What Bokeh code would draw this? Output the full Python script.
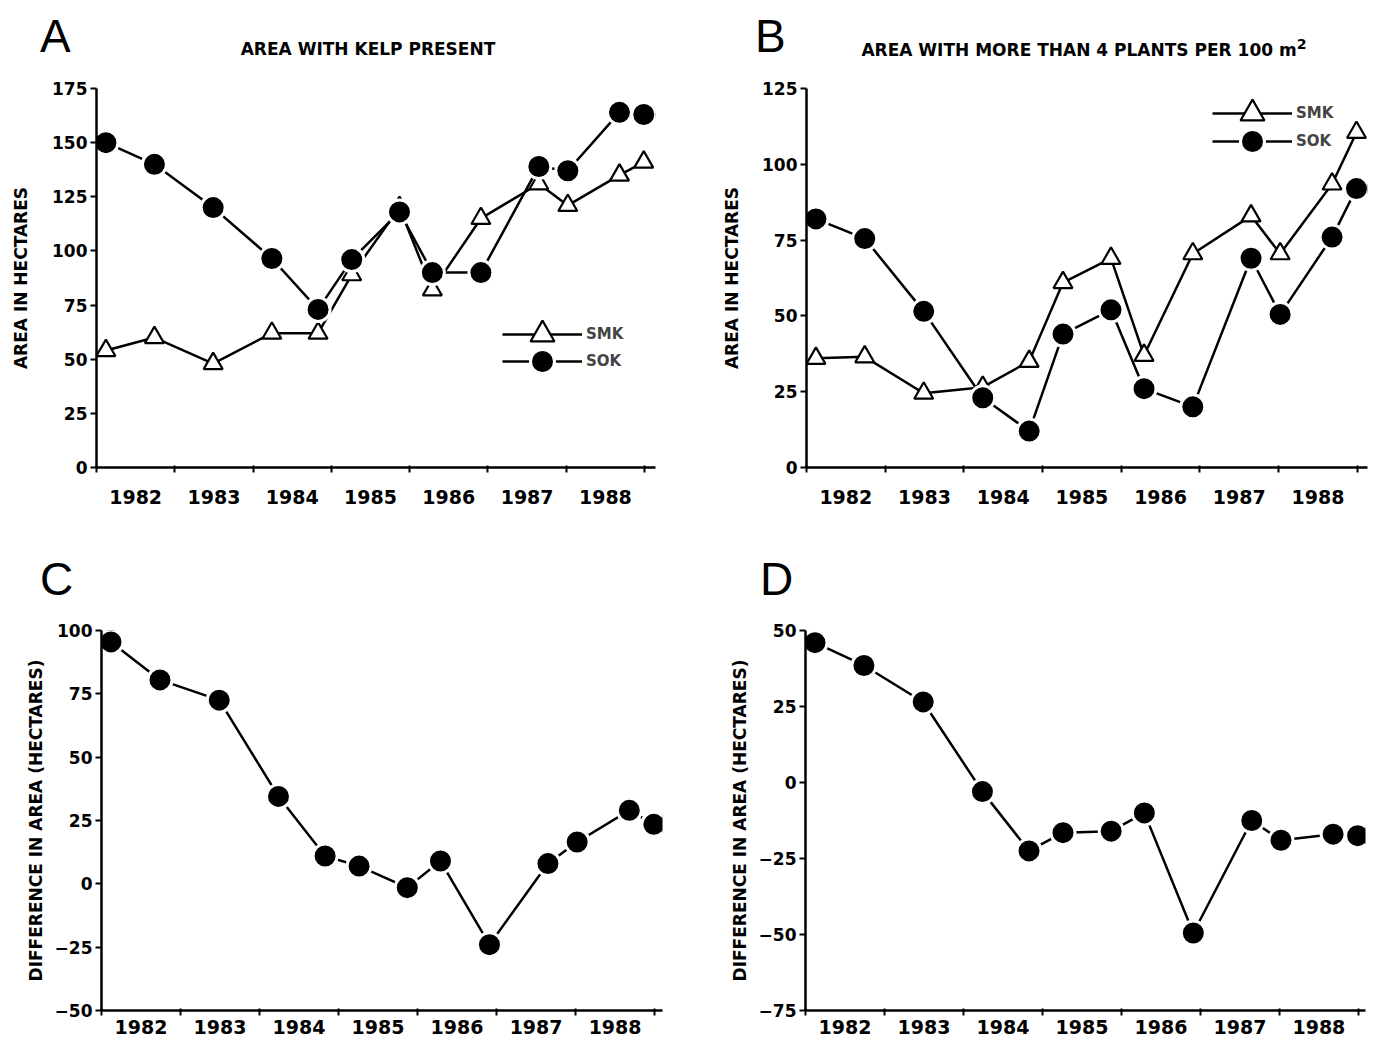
from bokeh.plotting import figure
from bokeh.models import Range1d, FixedTicker, Legend, LegendItem, Div
from bokeh.layouts import column, row
from bokeh.embed import file_html
from bokeh.resources import INLINE

# ---------------- data ----------------
year_labels = ["1982", "1983", "1984", "1985", "1986", "1987", "1988"]
year_bounds = [1982, 1983, 1984, 1985, 1986, 1987, 1988, 1989]
survey_dates = [1982.12, 1982.74, 1983.49, 1984.24, 1984.83, 1985.26, 1985.87,
                1986.29, 1986.91, 1987.65, 1988.02, 1988.68, 1988.99]

kelp_smk = [54, 60, 48, 62, 62, 89, 120, 82, 115, 131, 121, 135, 141]
kelp_sok = [150, 140, 120, 96.5, 73, 96, 118, 90, 90, 139, 137, 164, 163]

dense_smk = [36, 36.5, 24.5, 26.5, 35, 61, 69, 37, 70.5, 83, 70.5, 93.5, 110.5]
dense_sok = [82, 75.5, 51.5, 23, 12, 44, 52, 26, 20, 69, 50.5, 76, 92]

diff_kelp = [95.5, 80.5, 72.5, 34.5, 11, 7, -1.5, 9, -24, 8, 16.5, 29, 23.5]
diff_dense = [46, 38.5, 26.5, -3, -22.5, -16.5, -16, -10, -49.5, -12.5, -19, -17, -17.5]

yticks_a = [0, 25, 50, 75, 100, 125, 150, 175]
yticks_b = [0, 25, 50, 75, 100, 125]
yticks_c = [-50, -25, 0, 25, 50, 75, 100]
yticks_d = [-75, -50, -25, 0, 25, 50]

title_a = "AREA WITH KELP PRESENT"
title_b = "AREA WITH MORE THAN 4 PLANTS PER 100 m<sup>2</sup>"
series_names = ["SMK", "SOK"]

FONT = "DejaVu Sans"


def make_panel(width, height, bl, br, bt, bb, yticks, ylabel, lab_standoff, x_standoff, x_end):
    p = figure(width=width, height=height, output_backend="svg", toolbar_location=None,
               x_range=Range1d(year_bounds[0], x_end),
               y_range=Range1d(yticks[0], yticks[-1]),
               min_border_left=bl, min_border_right=br, min_border_top=bt, min_border_bottom=bb)
    p.outline_line_color = None
    p.grid.visible = False
    p.background_fill_color = "white"
    p.border_fill_color = "white"

    centers = [b + 0.5 for b in year_bounds[:-1]]
    xa = p.xaxis[0]
    xa.ticker = FixedTicker(ticks=centers, minor_ticks=year_bounds)
    xa.major_label_overrides = {c: lab for c, lab in zip(centers, year_labels)}
    xa.major_tick_line_color = None
    xa.major_tick_out = 0
    xa.major_tick_in = 0
    xa.minor_tick_line_color = "black"
    xa.minor_tick_line_width = 2
    xa.minor_tick_out = 5
    xa.minor_tick_in = 2
    xa.axis_line_width = 2.5
    xa.major_label_standoff = x_standoff
    xa.major_label_text_font = FONT
    xa.major_label_text_font_style = "bold"
    xa.major_label_text_font_size = "19px"
    xa.major_label_text_color = "black"

    ya = p.yaxis[0]
    ya.ticker = FixedTicker(ticks=yticks)
    ya.minor_tick_line_color = None
    ya.major_tick_out = 6
    ya.major_tick_in = 0
    ya.major_tick_line_width = 2
    ya.axis_line_width = 2.5
    ya.major_label_standoff = 3
    ya.major_label_text_font = FONT
    ya.major_label_text_font_style = "bold"
    ya.major_label_text_font_size = "17px"
    ya.major_label_text_color = "black"
    ya.axis_label = ylabel
    ya.axis_label_text_font = FONT
    ya.axis_label_text_font_style = "bold"
    ya.axis_label_text_font_size = "17px"
    ya.axis_label_text_color = "black"
    ya.axis_label_standoff = lab_standoff
    return p


def add_pair(p, smk, sok):
    l1 = p.line(survey_dates, smk, line_color="black", line_width=2.5)
    l2 = p.line(survey_dates, sok, line_color="black", line_width=2.5)
    t = p.scatter(survey_dates, smk, marker="triangle", size=19, fill_color="white",
                  line_color="black", line_width=2.2)
    c = p.scatter(survey_dates, sok, marker="circle", size=24, fill_color="black",
                  line_color="white", line_width=3)
    return (l1, t), (l2, c)


def add_single(p, vals):
    p.line(survey_dates, vals, line_color="black", line_width=2.5)
    p.scatter(survey_dates, vals, marker="circle", size=24, fill_color="black",
              line_color="white", line_width=3)


def add_legend_entry(p, name, renderers, loc):
    leg = Legend(items=[LegendItem(label=name, renderers=list(renderers))],
                 location=loc, glyph_width=80, glyph_height=60, spacing=0,
                 label_standoff=4, padding=0, margin=0,
                 border_line_color=None, background_fill_alpha=0,
                 label_text_font=FONT, label_text_font_style="bold",
                 label_text_font_size="15px", label_height=20)
    p.add_layout(leg)


def header(width, height, letter, letter_left, letter_top, title=None, title_center=0, title_top=0):
    html = (f'<div style="position:relative;width:{width}px;height:{height}px;background:white;">'
            f'<span style="position:absolute;left:{letter_left}px;top:{letter_top}px;'
            f'font-family:\'Liberation Sans\';font-size:46px;font-weight:normal;line-height:1;color:black;">'
            f'{letter}</span>')
    if title:
        html += (f'<span style="position:absolute;left:0px;top:{title_top}px;width:{2 * title_center}px;'
                 f'text-align:center;font-family:\'{FONT}\';font-size:17px;font-weight:bold;'
                 f'line-height:1;color:black;white-space:nowrap;">{title}</span>')
    html += '</div>'
    return Div(text=html, width=width, height=height, margin=0)


# ---------------- panels ----------------
hA = header(700, 60, "A", 40, 13, title_a, 368, 41)
hB = header(683, 60, "B", 55, 13, title_b, 384, 37)

pA = make_panel(700, 468, 96, 45, 28, 61, yticks_a, "AREA IN HECTARES", 18, 17, 1989.14)
smk_r, sok_r = add_pair(pA, kelp_smk, kelp_sok)
add_legend_entry(pA, series_names[0], smk_r, (406, 103))
add_legend_entry(pA, series_names[1], sok_r, (406, 76))

pB = make_panel(683, 468, 106, 16, 28, 61, yticks_b, "AREA IN HECTARES", 17, 17, 1989.13)
smk_r, sok_r = add_pair(pB, dense_smk, dense_sok)
add_legend_entry(pB, series_names[0], smk_r, (406, 324))
add_legend_entry(pB, series_names[1], sok_r, (406, 296))

hC = header(700, 72, "C", 40, 28)
hD = header(683, 72, "D", 60, 28)

pC = make_panel(700, 447, 101, 38, 30, 37, yticks_c, "DIFFERENCE IN AREA (HECTARES)", 6, 4, 1989.1)
add_single(pC, diff_kelp)

pD = make_panel(683, 447, 105, 18, 30, 37, yticks_d, "DIFFERENCE IN AREA (HECTARES)", 6, 4, 1989.09)
add_single(pD, diff_dense)

layout = column(row(hA, hB), row(pA, pB), row(hC, hD), row(pC, pD))
open("out.html", "w").write(file_html(layout, INLINE))
